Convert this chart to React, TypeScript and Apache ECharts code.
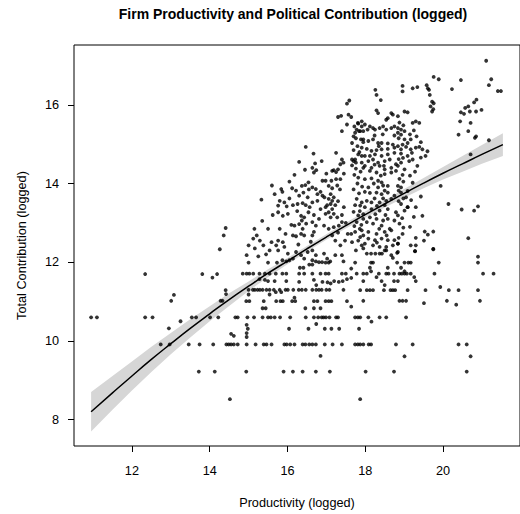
import React, { useEffect, useRef } from "react";
import * as echarts from "echarts";

const FONT = "'Liberation Sans', Arial, Helvetica, sans-serif";

const titleText = "Firm Productivity and Political Contribution (logged)";
const xName = "Productivity (logged)";
const yName = "Total Contribution (logged)";
const xTicks = [12, 14, 16, 18, 20];
const yTicks = [8, 10, 12, 14, 16];

// fitted curve and confidence band
const fitX = [10.95, 11.5, 12, 12.5, 13, 13.5, 14, 14.5, 15, 15.5, 16, 16.5, 17, 17.5, 18, 18.5, 19, 19.5, 20, 20.5, 21, 21.54];
const fitY = [8.2, 8.68, 9.11, 9.53, 9.93, 10.32, 10.69, 11.05, 11.39, 11.72, 12.03, 12.34, 12.64, 12.93, 13.21, 13.48, 13.75, 14.01, 14.26, 14.5, 14.74, 14.99];
const bandLower = [7.7, 8.25, 8.74, 9.21, 9.66, 10.09, 10.5, 10.89, 11.27, 11.62, 11.95, 12.27, 12.57, 12.86, 13.13, 13.39, 13.64, 13.88, 14.1, 14.3, 14.5, 14.7];
const bandUpper = [8.7, 9.11, 9.48, 9.85, 10.2, 10.55, 10.88, 11.21, 11.51, 11.82, 12.11, 12.41, 12.71, 13.0, 13.29, 13.57, 13.86, 14.14, 14.42, 14.7, 14.98, 15.28];

// firms: [productivity, contribution]
const firmsLow: [number, number][] = [
  [10.95,10.6],[11.1,10.6],[12.34,11.7],[12.34,10.6],[12.53,10.6],[12.74,9.91],[12.97,9.91],[12.95,10.32],[13.01,11.02],[13.08,11.17],
  [13.25,10.5],[13.54,10.6],[13.65,10.6],[13.46,9.91],[13.74,9.91],[14.09,9.91],[14.43,9.91],[13.72,9.22],[14.13,9.22],[13.81,11.7],
  [14.07,11.61],[14.19,11.7],[14.01,10.6],[14.22,10.6],[14.28,11.02],[14.33,11.02],[14.41,11.29],[14.42,11.19],[14.26,12.33],[14.41,12.87],[14.36,12.68],
  [14.66,10.6],[14.72,10.6],[14.97,10.6],[15.14,10.6],[15.36,10.6],[15.5,10.6],[15.57,10.6],[15.67,10.6],[15.81,10.6],[16.07,10.6],
  [16.47,10.6],[16.68,10.6],[16.79,10.6],[16.88,10.6],[16.93,10.6],[16.99,10.6],[17.08,10.6],[17.25,10.6],[17.3,10.6],
  [14.49,9.91],[14.55,9.91],[14.62,9.91],[14.72,9.91],[14.95,9.91],[15.18,9.91],[15.39,9.91],[15.46,9.91],[15.59,9.91],[15.92,9.91],
  [15.98,9.91],[16.07,9.91],[16.18,9.91],[16.39,9.91],[16.46,9.91],[16.56,9.91],[16.64,9.91],[16.73,9.91],[16.96,9.91],[17.16,9.91],[17.4,9.91],
  [14.94,9.22],[15.9,9.22],[16.14,9.22],[16.39,9.22],[16.73,9.22],[17.09,9.22],[14.52,8.52],
  [16.85,9.62],[14.55,10.18],[14.62,10.13],[14.95,10.41],[14.98,10.31],[14.95,10.2],[14.95,10.1],[16.04,10.31],[16.54,10.31],[16.74,10.43],
  [16.96,10.31],[17.13,10.31],[17.33,10.31],
  [14.94,11.01],[15.02,11.01],[15.39,11.01],[15.71,11.01],[15.82,11.01],[15.88,11.01],[16.12,11.01],[16.2,11.01],[16.68,11.01],[16.77,11.01],
  [16.98,11.01],[17.06,11.01],[17.13,11.01],[17.53,11.01],
  [15.36,10.83],[15.44,10.83],[16.46,10.83],[16.68,10.83],[16.85,10.83],[17.64,10.87],
  [15.0,11.3],[15.11,11.3],[15.16,11.3],[15.23,11.3],[15.29,11.3],[15.36,11.3],[15.46,11.3],[15.54,11.3],[15.65,11.3],[15.8,11.3],
  [15.95,11.3],[16.01,11.3],[16.15,11.3],[16.29,11.3],[16.37,11.3],[16.47,11.3],[16.64,11.3],[16.74,11.3],[16.81,11.3],[16.88,11.3],
  [17.0,11.3],[17.08,11.3],[17.44,11.3],
  [15.0,11.18],[15.54,11.18],[15.7,11.24],[15.84,11.24],[16.18,11.1],
  [14.85,11.71],[14.95,11.71],[15.02,11.71],[15.12,11.71],[15.28,11.71],[15.42,11.71],[15.54,11.71],[15.7,11.71],[15.87,11.71],[15.97,11.71],
  [16.3,11.71],[16.43,11.71],[16.64,11.71],[16.85,11.71],[16.98,11.71],[17.06,11.71],[17.4,11.71],[17.5,11.71],
  [15.28,11.57],[15.42,11.55],[15.5,11.52],[15.67,11.52],[15.97,11.52],[16.3,11.5],[16.68,11.55],[16.74,11.42],[16.9,11.5],[17.03,11.49],
  [17.11,11.46],[17.2,11.52],[17.32,11.5],[17.42,11.52],[17.53,11.57],[17.64,11.6],
  [15.0,11.99],[15.5,11.99],[15.73,11.99],[15.87,12.05],[15.97,12.02],[16.05,12.05],[16.32,11.86],[16.41,11.86],[16.56,11.94],[16.64,11.94],
  [16.73,12.02],[16.81,12.0],[16.89,12.0],[16.98,11.99],[17.06,11.99],[17.1,12.02],[17.44,12.02],[17.64,11.84],[16.64,12.05],
];

const firmsMid: [number, number][] = [
  [17.53,16.03],[17.59,16.11],[17.3,15.69],[17.38,15.72],[17.57,15.75],[17.64,15.69],[17.53,15.5],[17.4,15.33],[17.82,15.52],[17.91,15.45],
  [17.78,15.37],[17.84,15.33],[17.74,15.29],[17.7,15.2],[17.89,15.12],[17.95,15.05],[17.66,15.03],[16.47,14.93],[16.67,14.76],[16.88,14.57],
  [17.25,14.78],[17.4,14.61],[17.44,14.53],[17.36,14.49],[17.3,14.36],[17.19,14.34],[17.25,14.29],[17.15,14.32],[17.66,14.61],[17.7,14.57],
  [17.76,14.53],[17.66,14.46],[17.91,14.7],[17.95,14.4],[16.71,14.51],[16.64,14.4],[16.74,14.34],[16.68,14.28],[16.18,14.22],[16.9,14.07],
  [16.98,14.07],[17.13,14.07],[17.06,13.94],[17.15,13.88],[17.25,14.11],[17.36,14.11],[16.37,13.94],[16.46,13.96],[16.54,14.03],[16.41,13.77],
  [16.3,13.69],[16.52,13.65],[16.64,13.9],[16.73,13.86],[16.77,13.73],[16.85,13.79],[16.9,13.69],[15.84,13.86],[15.67,13.73],[16.12,13.88],
  [15.87,13.79],[15.33,13.59],
  [17.11,13.73],[17.06,13.61],[17.19,13.65],[17.15,13.56],[17.11,13.48],[17.23,13.45],[17.02,13.45],[16.98,13.4],[17.15,13.35],[17.06,13.27],
  [17.19,13.23],[17.28,13.14],[17.11,13.14],[16.98,13.23],
  [15.8,13.56],[15.92,13.52],[15.76,13.44],[15.98,13.42],[16.14,13.45],[16.26,13.48],[16.39,13.5],[16.47,13.45],[16.57,13.4],[16.64,13.52],
  [16.77,13.56],[16.85,13.35],
  [15.76,13.27],[15.88,13.18],[16.01,13.23],[16.35,13.18],[16.43,13.14],[16.37,13.06],[16.54,13.27],[16.64,13.02],[16.81,13.1],[16.73,12.93],
  [15.8,12.85],[16.94,12.93],[17.06,12.85],[17.19,12.89],[17.32,12.93],[17.4,13.02],[17.55,12.72],[17.64,12.72],[17.74,12.77],[17.86,12.85],
  [17.95,12.68],[17.66,12.51],[17.91,12.43],
  [16.35,12.72],[16.43,12.68],[16.22,12.66],[16.64,12.68],[16.68,12.77],[17.15,12.68],[17.23,12.55],[17.36,12.43],
  [15.21,12.68],[15.12,12.6],[15.29,12.55],[15.38,12.43],[15.0,12.43],[15.16,12.35],[15.54,12.3],[15.71,12.43],[15.76,12.3],[15.92,12.39],
  [16.01,12.22],[16.22,12.26],[16.14,12.09],[16.35,12.18],[16.43,12.09],[16.52,12.26],[16.64,12.3],
  [16.73,12.18],[16.94,12.22],[17.02,12.09],[17.23,12.18],[17.4,12.18],[14.95,12.18],
  [15.76,12.55],[15.88,12.51],[15.59,12.51],[16.14,12.68],[16.18,12.93],[16.3,12.97],[16.39,12.85],
  [17.0,14.25],[17.45,14.25],[17.35,13.85],[17.3,13.55],[17.45,13.4],[17.4,13.2],[17.5,13.0],[17.3,12.75],[17.48,12.55],[16.95,13.65],
  [17.28,13.95],[16.05,13.62],[16.22,13.82],[16.55,13.85],[16.25,13.3],[16.68,13.2],[16.48,12.98],[16.1,12.95],[16.6,12.52],[16.28,12.45],
  [15.95,12.72],[16.45,14.35],[16.3,14.55],[16.05,14.05],[15.5,12.85],[15.35,13.05],[15.62,13.2],[15.45,12.2],[15.25,12.15],[15.6,13.95],[15.15,12.85],
];

const firmsHigh: [number, number][] = [
  [21.11,17.12],[19.76,16.71],[19.89,16.65],[20.46,16.63],[21.24,16.65],[21.18,16.5],[21.41,16.35],[21.49,16.35],[18.96,16.48],[18.96,16.34],
  [19.22,16.42],[19.34,16.45],[19.58,16.5],[19.61,16.42],[19.64,16.38],[19.66,16.25],[19.72,16.08],[19.76,16.04],[19.68,15.96],[19.72,15.83],
  [19.75,15.89],[18.26,16.38],[18.29,16.25],[18.4,16.12],[20.23,16.4],[20.86,16.13],[20.8,16.06],[20.65,15.96],[20.57,15.92],[20.69,15.83],
  [20.99,15.87],[20.85,15.83],[20.46,15.81],[20.54,15.77],[20.44,15.58],[20.71,15.54],[20.65,15.33],[20.4,15.24],[20.85,15.2],[20.82,15.16],
  [21.18,15.1],[20.71,14.74],[19.94,13.94],[20.14,13.48],[20.48,13.34],[20.8,13.31],[20.9,13.42],[20.65,12.61],[19.53,12.78],[19.75,12.78],
  [19.61,12.7],[19.51,12.55],[19.75,12.34],[19.47,13.18],[19.43,13.67],[19.3,13.4],[19.09,13.4],[19.05,13.65],[19.09,13.81],[18.96,12.72],
  [18.84,12.47],[19.28,12.28],[20.9,12.14],
  [18.29,15.86],[18.33,15.79],[18.54,15.62],[18.58,15.66],[18.67,15.79],[18.71,15.75],[18.84,15.71],[19.01,15.83],[19.09,15.81],[19.22,15.54],
  [19.3,15.58],[19.39,15.54],[17.81,15.54],[17.91,15.58],[17.99,15.5],[18.12,15.45],[18.2,15.41],[18.25,15.37],[18.37,15.41],[18.46,15.45],
  [18.54,15.37],[18.67,15.41],[18.75,15.45],[18.84,15.41],[18.92,15.37],[19.01,15.33],[17.87,15.33],[17.95,15.33],[18.06,15.37],
  [18.84,15.29],[18.92,15.24],[18.75,15.22],[19.01,15.12],[19.09,15.03],[19.17,15.12],[19.43,15.05],[17.95,15.12],[18.08,15.08],[18.2,15.12],
  [18.33,15.03],[18.42,15.03],[18.58,15.02],[18.71,14.99],[18.84,14.95],[18.96,14.99],[19.05,14.93],[17.91,14.91],[18.04,14.88],[18.16,14.83],
  [18.29,14.85],[18.42,14.87],[18.58,14.88],[18.75,14.91],[18.92,14.87],[19.17,14.87],[19.3,14.91],[19.39,14.93],[19.47,14.87],[19.6,14.82],
  [17.82,14.74],[17.99,14.7],[18.12,14.7],[18.25,14.74],[18.42,14.7],[18.58,14.74],[18.75,14.78],[18.92,14.76],[19.09,14.7],[19.22,14.61],
  [19.43,14.66],[19.55,14.7],[17.74,14.61],[17.91,14.53],[18.08,14.57],[18.2,14.61],[18.33,14.53],[18.5,14.57],[18.63,14.61],[18.79,14.49],
  [18.92,14.53],[19.13,14.57],[17.99,14.45],[18.16,14.4],[18.37,14.45],[18.5,14.36],[18.67,14.4],[18.84,14.45],[19.01,14.36],[18.12,14.32],
  [18.29,14.28],[18.5,14.24],[18.67,14.28],[18.79,14.32],[19.34,14.45],[17.82,14.15],[17.99,14.11],[18.16,14.13],[18.33,14.07],[18.42,14.03],
  [18.58,13.94],[18.08,13.9],[18.33,13.9],[18.5,13.82],[18.84,13.94],[18.92,13.9],[17.99,13.79],[18.12,13.76],[18.29,13.77],[18.42,13.73],
  [18.58,13.77],[18.75,13.69],[18.92,13.77],[17.78,13.61],[17.91,13.52],[18.04,13.56],[18.16,13.52],[18.37,13.52],[18.54,13.56],[18.67,13.61],
  [18.92,13.48],[19.09,13.4],[17.87,13.44],[17.99,13.4],[18.16,13.35],[18.37,13.31],[18.58,13.35],[18.79,13.27],[19.01,13.31],[17.82,13.19],
  [17.95,13.1],[18.12,13.14],[18.29,13.1],[18.46,13.06],[18.58,13.1],[18.75,13.06],[18.04,13.02],[18.2,12.98],[18.42,12.93],[18.63,12.85],
  [18.84,13.19],[17.91,12.81],[18.08,12.77],[18.29,12.72],[18.5,12.77],[18.67,12.81],[17.87,12.64],[18.08,12.6],[18.25,12.56],[18.42,12.6],
  [18.58,12.56],[18.75,12.56],[17.99,12.47],[18.2,12.43],[18.37,12.39],[18.54,12.39],[18.71,12.43],[18.84,12.47],[18.5,12.3],[18.67,12.18],
  [18.84,12.26],[19.17,12.43],[19.3,12.43],
  [17.72,15.45],[17.76,15.15],[17.8,14.95],[17.7,14.85],[17.85,14.8],[17.76,14.38],[17.88,14.3],[17.72,14.22],[17.8,14.0],[17.92,13.92],
  [17.7,13.85],[17.84,13.75],[17.74,13.45],[17.86,13.3],[17.7,13.28],[17.95,13.22],[17.78,13.02],[17.9,12.95],[17.72,12.92],[17.82,12.55],
  [17.95,12.35],[17.76,12.3],
  [18.88,15.55],[18.98,15.48],[18.86,15.15],[18.97,14.65],[18.86,14.62],[18.96,14.22],[18.88,14.12],[18.98,14.05],[18.86,13.82],[18.98,13.62],
  [18.86,13.55],[18.95,13.12],[18.88,12.98],[18.98,12.88],[18.86,12.62],
  [18.24,15.22],[18.45,15.25],[18.35,14.95],[18.48,14.45],[18.24,14.48],[18.4,14.2],[18.22,14.0],[18.46,13.95],[18.24,13.62],[18.46,13.62],
  [18.3,13.43],[18.5,13.45],[18.26,13.22],[18.52,13.2],[18.36,12.85],[18.55,12.68],[18.3,12.5],
  [19.15,15.25],[19.25,15.35],[19.32,15.2],[19.2,14.78],[19.28,14.3],[19.15,14.2],[19.22,14.02],[19.18,13.58],[19.25,13.15],[19.15,12.9],[19.3,12.62],
  [18.04,12.22],[18.15,12.22],[18.26,12.22],[18.37,12.22],[18.43,12.22],[18.54,12.3],[18.82,12.24],[19.28,12.28],[19.75,12.33],
  [17.74,11.99],[18.15,11.99],[18.2,11.99],[18.82,11.99],[19.01,11.99],[19.11,11.99],[19.17,11.99],[19.89,11.99],[20.9,11.99],
  [18.12,11.86],[18.15,11.77],[18.58,11.86],[18.92,11.86],[19.01,11.77],[18.71,12.11],
  [17.78,11.71],[17.95,11.71],[18.04,11.71],[18.35,11.71],[18.54,11.71],[18.6,11.71],[18.74,11.71],[18.88,11.71],[18.94,11.71],[19.01,11.71],
  [19.07,11.71],[19.17,11.71],[19.78,11.71],[21.03,11.71],[21.3,11.71],
  [18.29,11.62],[19.26,11.62],[19.3,11.52],[17.95,11.52],[18.42,11.52],[18.74,11.52],[18.84,11.52],[18.5,11.42],[19.93,11.37],
  [17.87,11.29],[18.04,11.29],[18.12,11.29],[18.2,11.29],[18.48,11.29],[18.65,11.29],[18.71,11.29],[18.77,11.29],[19.09,11.29],[19.55,11.29],
  [20.15,11.29],[20.4,11.29],[20.9,11.29],
  [17.95,11.02],[18.88,11.02],[18.96,11.02],[19.05,11.02],[20.1,11.02],[20.95,11.02],[19.51,10.96],[20.34,10.92],
  [17.74,10.6],[17.81,10.6],[17.87,10.6],[18.08,10.6],[18.37,10.6],[18.54,10.6],[19.05,10.6],[18.16,10.49],[17.84,10.31],
  [17.74,9.91],[17.81,9.91],[17.87,9.91],[17.95,9.91],[18.09,9.91],[18.15,9.91],[18.79,9.91],[19.22,9.91],[20.4,9.91],[20.61,9.91],
  [19.01,9.61],[20.71,9.61],[18.01,9.22],[18.74,9.22],[20.61,9.22],[17.87,8.52],
];

export default function App() {
  const ref = useRef<HTMLDivElement>(null);
  useEffect(() => {
    document.body.style.margin = "0";
    const chart = echarts.init(ref.current!, null, { renderer: "svg" });
    const firms = [...firmsLow, ...firmsMid, ...firmsHigh];
    const axisText = { color: "#000", fontSize: 12.7, fontFamily: FONT };
    chart.setOption({
      animation: false,
      backgroundColor: "#fff",
      title: {
        text: titleText,
        left: 293,
        top: 7,
        padding: 0,
        textAlign: "center",
        textStyle: { color: "#000", fontSize: 14, fontWeight: "bold", fontFamily: FONT },
      },
      grid: { left: 74, right: -7, top: 45, bottom: 65, show: true, borderColor: "#000", borderWidth: 1 },
      xAxis: {
        type: "value",
        min: 10.51,
        max: 21.98,
        name: xName,
        nameLocation: "middle",
        nameGap: 50,
        nameTextStyle: axisText,
        axisLine: { show: false },
        splitLine: { show: false },
        axisTick: { show: true, inside: false, length: 6, customValues: xTicks, lineStyle: { color: "#000" } },
        axisLabel: { ...axisText, margin: 18, customValues: xTicks },
      },
      yAxis: {
        type: "value",
        min: 7.33,
        max: 17.52,
        name: yName,
        nameLocation: "middle",
        nameGap: 46,
        nameRotate: 90,
        nameTextStyle: axisText,
        axisLine: { show: false },
        splitLine: { show: false },
        axisTick: { show: true, inside: false, length: 6, customValues: yTicks, lineStyle: { color: "#000" } },
        axisLabel: { ...axisText, margin: 15, customValues: yTicks },
      },
      series: [
        {
          type: "custom",
          silent: true,
          data: [[fitX[0], bandLower[0]]],
          encode: { x: 0, y: 1 },
          renderItem: (params: any, api: any) => {
            const up = fitX.map((x, i) => api.coord([x, bandUpper[i]]));
            const lo = fitX.map((x, i) => api.coord([x, bandLower[i]])).reverse();
            return { type: "polygon", shape: { points: [...up, ...lo] }, style: { fill: "#D6D6D6" } };
          },
          z: 1,
        },
        {
          type: "scatter",
          data: firms,
          symbol: "circle",
          symbolSize: 3.8,
          itemStyle: { color: "#000" },
          z: 2,
        },
        {
          type: "line",
          data: fitX.map((x, i) => [x, fitY[i]]),
          showSymbol: false,
          smooth: true,
          lineStyle: { color: "#000", width: 1.5 },
          z: 3,
        },
      ],
    });
    return () => chart.dispose();
  }, []);
  return <div ref={ref} style={{ width: 520, height: 514 }} />;
}
